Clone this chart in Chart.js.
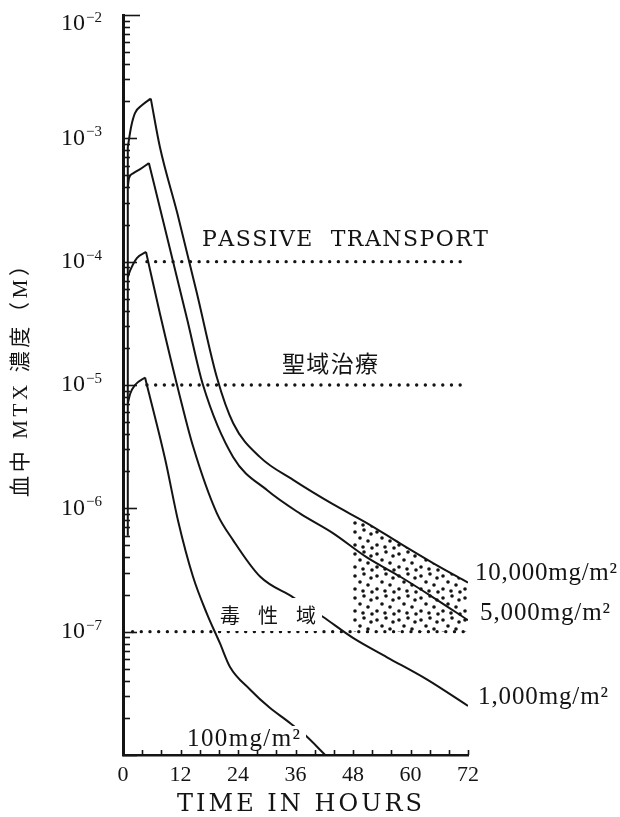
<!DOCTYPE html>
<html>
<head>
<meta charset="utf-8">
<script src="https://cdn.jsdelivr.net/npm/chart.js@4/dist/chart.umd.min.js"></script>
<style>
html, body { margin: 0; padding: 0; background: #fff; }
</style>
</head>
<body>
<canvas id="grafico-mtx" width="620" height="817"></canvas>
<script>
// curvas de concentração (horas, mol/L)
const horas10000 = [1.0, 1.7, 2.5, 4.0, 5.8, 7.7, 11.3, 15.4, 19.6, 23, 28.6, 35.5, 43.8, 50.9, 57.8, 64.7, 72];
const mtx10000 = [8.5e-4, 1.24e-3, 1.6e-3, 1.86e-3, 2.1e-3, 8.5e-4, 2.5e-4, 5.6e-5, 1.15e-5, 4.9e-6, 2.6e-6, 1.7e-6, 1.08e-6, 7.6e-7, 5.2e-7, 3.6e-7, 2.5e-7];

const horas5000 = [1.0, 1.25, 2.1, 3.5, 5.4, 8.3, 13.4, 16.7, 23, 30.1, 36.9, 43.8, 50.9, 57.8, 64.7, 72];
const mtx5000 = [4.0e-4, 4.76e-4, 5.2e-4, 5.6e-4, 6.3e-4, 2.2e-4, 3.4e-5, 1.0e-5, 2.6e-6, 1.4e-6, 9.1e-7, 6.3e-7, 4.0e-7, 2.8e-7, 1.9e-7, 1.24e-7];

const horas1000 = [1.0, 1.5, 2.9, 4.8, 7.7, 11.9, 14.6, 19.6, 23, 28.6, 35.5, 41.7, 48, 55.1, 63.4, 72];
const mtx1000 = [7.5e-5, 8.5e-5, 1.07e-4, 1.2e-4, 3.8e-5, 8.0e-6, 3.2e-6, 9.1e-7, 5.5e-7, 2.8e-7, 1.9e-7, 1.32e-7, 8.9e-8, 6.2e-8, 4.1e-8, 2.5e-8];

const horas100 = [1.0, 1.5, 2.5, 4.6, 8.8, 11.5, 14.6, 17.5, 20.2, 22.3, 26.5, 30.7, 34.2, 38, 42.2];
const mtx100 = [7.1e-6, 8.5e-6, 1.0e-5, 1.15e-5, 2.5e-6, 7.9e-7, 2.8e-7, 1.4e-7, 8.1e-8, 5.2e-8, 3.4e-8, 2.4e-8, 1.9e-8, 1.45e-8, 1.0e-8];

// subida inicial comum às quatro curvas, junto ao eixo
const horasInicio = [1.0, 1.0];
const mtxInicio = [6e-7, 8.5e-4];

// linhas pontilhadas (passive transport, santuário, toxicidade)
const horasPassivo = [5, 72];
const nivelPassivo = [1e-4, 1e-4];
const horasSantuario = [5, 72];
const nivelSantuario = [1e-5, 1e-5];
const horasToxico = [2, 72];
const nivelToxico = [1e-7, 1e-7];

// área pontilhada (zona tóxica)
const horasZona = [48, 50.9, 57.8, 64.7, 72];
const topoZona = [8.8e-7, 7.6e-7, 5.2e-7, 3.6e-7, 2.5e-7];
const baseZona = 1e-7;

// eixos
const rotulosHoras = [0, 12, 24, 36, 48, 60, 72];
const expoentes = [-2, -3, -4, -5, -6, -7];

const fonteSerif = '"Liberation Serif", "Noto Sans CJK JP", serif';
const fonteLarga = '"DejaVu Serif", "Noto Sans CJK JP", serif';
const preto = "#141414";

function pontos(horas, valores){
    return horas.map((h, i) => ({ x: h, y: valores[i] }));
}

function curva(horas, valores){
    const pico = valores.indexOf(Math.max(...valores));
    const todos = pontos(horas, valores);
    const estilo = {
        borderColor: preto,
        borderWidth: 2,
        pointRadius: 0,
        fill: false,
        cubicInterpolationMode: "monotone"
    };
    return [
        Object.assign({ data: todos.slice(0, pico + 1) }, estilo),
        Object.assign({ data: todos.slice(pico) }, estilo)
    ];
}

function pontilhado(horas, valores){
    return {
        data: pontos(horas, valores),
        borderColor: preto,
        borderWidth: 3.4,
        borderDash: [0, 8.7],
        borderCapStyle: "round",
        pointRadius: 0,
        fill: false
    };
}

function criarTextura(){
    const c = document.createElement("canvas");
    c.width = 22;
    c.height = 22;
    const g = c.getContext("2d");
    g.fillStyle = preto;
    [[3, 4], [12, 2], [19, 6], [8, 10], [16, 13], [3, 17], [11, 19], [20, 20]].forEach(([x, y]) => {
        g.beginPath();
        g.arc(x, y, 1.8, 0, Math.PI * 2);
        g.fill();
    });
    return g.createPattern(c, "repeat");
}

// escreve o texto entre esquerda e direita, espaçando as letras
function textoEspacado(ctx, texto, esquerda, direita, y){
    const letras = Array.from(texto);
    const larguras = letras.map((l) => ctx.measureText(l).width);
    const total = larguras.reduce((a, b) => a + b, 0);
    const extra = letras.length > 1 ? (direita - esquerda - total) / (letras.length - 1) : 0;
    let x = esquerda;
    ctx.textAlign = "left";
    ctx.textBaseline = "middle";
    letras.forEach((l, i) => {
        ctx.fillText(l, x, y);
        x += larguras[i] + extra;
    });
}

const desenhos = {
    id: "desenhos",
    afterDraw(chart){
        const ctx = chart.ctx;
        const x = chart.scales.x;
        const y = chart.scales.y;
        const area = chart.chartArea;
        ctx.save();

        // fundos brancos atrás dos rótulos que cortam as curvas
        ctx.fillStyle = "#fff";
        ctx.fillRect(218, 598, 104, 33);
        ctx.fillRect(185, 726, 121, 26);

        // marcas do eixo y (para dentro)
        ctx.strokeStyle = preto;
        ctx.lineWidth = 1.6;
        for (let k = -8; k <= -2; k++){
            for (let m = 1; m <= 9; m++){
                const v = m * Math.pow(10, k);
                if (v > 1.0001e-2) break;
                const py = Math.round(y.getPixelForValue(v)) + 0.5;
                let tam = m == 1 ? 14 : 7;
                if (k == -2) tam = 17;
                ctx.beginPath();
                ctx.moveTo(area.left, py);
                ctx.lineTo(area.left + tam, py);
                ctx.stroke();
            }
        }

        // marcas do eixo x a cada 4 horas
        for (let h = 4; h <= 72; h += 4){
            const px = Math.round(x.getPixelForValue(h)) + 0.5;
            ctx.beginPath();
            ctx.moveTo(px, area.bottom);
            ctx.lineTo(px, area.bottom - 5);
            ctx.stroke();
        }

        ctx.fillStyle = preto;

        // rótulos do eixo y: 10 com expoente
        for (const e of expoentes){
            const py = Math.max(y.getPixelForValue(Math.pow(10, e)), 24);
            ctx.font = "24px " + fonteSerif;
            ctx.textAlign = "right";
            ctx.textBaseline = "middle";
            ctx.fillText("10", 85, py);
            ctx.font = "15px " + fonteSerif;
            ctx.textAlign = "left";
            ctx.fillText("\u2212" + Math.abs(e), 86, py - 6);
        }

        // rótulos do eixo x
        ctx.font = "22px " + fonteSerif;
        ctx.textAlign = "center";
        ctx.textBaseline = "middle";
        for (const h of rotulosHoras){
            ctx.fillText(String(h), x.getPixelForValue(h), 775);
        }

        ctx.font = "24px " + fonteLarga;
        textoEspacado(ctx, "TIME IN HOURS", 177, 422, 805);

        // título do eixo y, girado
        ctx.save();
        ctx.translate(21, 376);
        ctx.rotate(-Math.PI / 2);
        ctx.font = "21px " + fonteSerif;
        textoEspacado(ctx, "血中 MTX 濃度（M）", -121, 121, 0);
        ctx.restore();

        // anotações
        ctx.font = "22px " + fonteLarga;
        textoEspacado(ctx, "PASSIVE  TRANSPORT", 202, 488, 240);
        ctx.font = "23px " + fonteSerif;
        textoEspacado(ctx, "聖域治療", 282, 378, 366);
        ctx.font = "20px " + fonteSerif;
        textoEspacado(ctx, "毒性域", 220, 316, 618);

        ctx.font = "25px " + fonteSerif;
        textoEspacado(ctx, "10,000mg/m²", 475, 617, 573);
        textoEspacado(ctx, "5,000mg/m²", 480, 610, 613);
        textoEspacado(ctx, "1,000mg/m²", 478, 608, 697);
        textoEspacado(ctx, "100mg/m²", 187, 300, 739);

        ctx.restore();
    }
};

const inicio = pontos(horasInicio, mtxInicio);

const datasets = [
    ...curva(horas10000, mtx10000),
    ...curva(horas5000, mtx5000),
    ...curva(horas1000, mtx1000),
    ...curva(horas100, mtx100),
    { data: inicio, borderColor: preto, borderWidth: 2, pointRadius: 0, fill: false },
    pontilhado(horasPassivo, nivelPassivo),
    pontilhado(horasSantuario, nivelSantuario),
    pontilhado(horasToxico, nivelToxico),
    {
        data: pontos(horasZona, topoZona),
        fill: { value: baseZona },
        backgroundColor: criarTextura(),
        borderWidth: 0,
        pointRadius: 0,
        order: 5
    }
];

new Chart("grafico-mtx", {
    type: "line",
    data: { datasets },
    options: {
        responsive: false,
        animation: false,
        devicePixelRatio: 1,
        layout: { padding: { top: 15, right: 152, bottom: 0, left: 0 } },
        plugins: {
            legend: { display: false },
            tooltip: { enabled: false }
        },
        scales: {
            x: {
                type: "linear",
                min: 0,
                max: 72,
                grid: { display: true, drawOnChartArea: false, drawTicks: false },
                border: { display: true, color: preto, width: 2.5 },
                ticks: { display: false },
                afterFit(scale){ scale.height = 62; }
            },
            y: {
                type: "logarithmic",
                min: 1e-8,
                max: 1e-2,
                grid: { display: true, drawOnChartArea: false, drawTicks: false },
                border: { display: true, color: preto, width: 3 },
                ticks: { display: false },
                afterFit(scale){ scale.width = 123; }
            }
        }
    },
    plugins: [desenhos]
});
</script>
</body>
</html>
